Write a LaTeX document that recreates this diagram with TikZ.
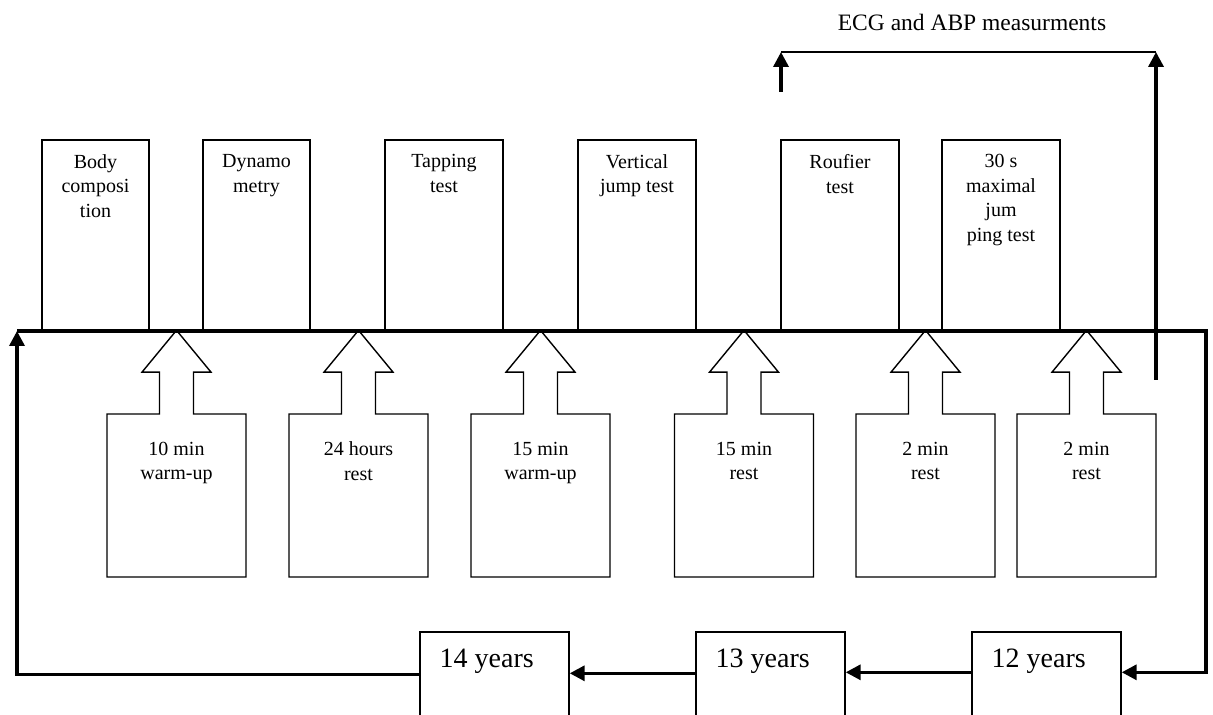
\documentclass[tikz,border=0pt]{standalone}
\usepackage{fontspec}
\setmainfont{Liberation Serif}
\usetikzlibrary{shapes.arrows, arrows.meta}

\tikzstyle{testbox} = [
    rectangle,
    draw=black,
    line width=0.7pt,
    minimum height=95.5pt,
    inner sep=0pt
]
\tikzstyle{restbox} = [
    arrow box,
    draw=black,
    line width=0.7pt,
    minimum width=69.5pt,
    minimum height=81.5pt,
    inner sep=0pt,
    arrow box arrows={north:41.5pt from border},
    arrow box shaft width=17pt,
    arrow box head extend=8.75pt,
    arrow box tip angle=79
]
\tikzstyle{agebox} = [
    rectangle,
    draw=black,
    line width=0.7pt,
    minimum width=74.5pt,
    minimum height=60pt,
    inner sep=0pt
]
\tikzstyle{boxtext} = [anchor=north, align=center, inner sep=0pt, yshift=-7.45pt,
    font=\fontsize{10}{12.25}\selectfont]
\tikzstyle{resttext} = [anchor=north, align=center, inner sep=0pt, yshift=-56.2pt,
    font=\fontsize{10}{12.25}\selectfont]
\tikzstyle{agetext} = [anchor=north west, inner sep=0pt, xshift=10pt, yshift=-8.5pt,
    font=\fontsize{14}{16}\selectfont]
\tikzstyle{arrow} = [line width=1.7pt, ->, >={Triangle[length=7.5pt, width=7.5pt]}]
\tikzstyle{thinline} = [line width=0.7pt]

\begin{document}
\begin{tikzpicture}[x=0.5pt, y=-0.5pt]

\useasboundingbox (0,0) rectangle (1213,715);
\clip (0,0) rectangle (1213,715);

% tests
\node (body) [testbox, minimum width=53.5pt, label={[boxtext]north:Body\\composi\\tion}] at (95.5,235.5) {};
\node (dyna) [testbox, minimum width=53.5pt, label={[boxtext]north:Dynamo\\metry}] at (256.5,235.5) {};
\node (tapping) [testbox, minimum width=59pt, label={[boxtext]north:Tapping\\test}] at (444,235.5) {};
\node (vjump) [testbox, minimum width=59pt, label={[boxtext]north:Vertical\\jump test}] at (637,235.5) {};
\node (roufier) [testbox, minimum width=59pt, label={[boxtext]north:Roufier\\test}] at (840,235.5) {};
\node (maxjump) [testbox, minimum width=59pt, label={[boxtext]north:30 s\\maximal\\jum\\ping test}] at (1001,235.5) {};

% pauses
\node (warm10) [restbox, label={[resttext]north:10 min\\warm-up}] at (176.5,495.5) {};
\node (rest24) [restbox, label={[resttext]north:24 hours\\rest}] at (358.5,495.5) {};
\node (warm15) [restbox, label={[resttext]north:15 min\\warm-up}] at (540.5,495.5) {};
\node (rest15) [restbox, label={[resttext]north:15 min\\rest}] at (744,495.5) {};
\node (rest2a) [restbox, label={[resttext]north:2 min\\rest}] at (925.5,495.5) {};
\node (rest2b) [restbox, label={[resttext]north:2 min\\rest}] at (1086.5,495.5) {};

% ages
\node (yr14) [agebox, label={[agetext]north west:14 years}] at (494.5,692) {};
\node (yr13) [agebox, label={[agetext]north west:13 years}] at (770.5,692) {};
\node (yr12) [agebox, label={[agetext]north west:12 years}] at (1046.5,692) {};

\coordinate (lineL) at (17,331);
\coordinate (lineR) at (1206,331);
\coordinate (ecgA) at (781,92);
\coordinate (ecgB) at (781,52);
\coordinate (ecgC) at (1156,52);
\coordinate (ecgD) at (1156,380);

\draw [arrow] (lineL) -- (lineR) |- ([yshift=-20.5pt]yr12.north east);
\draw [arrow] ([yshift=-20.5pt]yr12.north west) -- ([yshift=-20.5pt]yr13.north east);
\draw [arrow] ([yshift=-21pt]yr13.north west) -- ([yshift=-21pt]yr14.north east);
\draw [arrow] ([yshift=-21.5pt]yr14.north west) -| (lineL);

\draw [arrow] (ecgA) -- (ecgB);
\draw [thinline] (ecgB) -- node[anchor=base, yshift=10.5pt, xshift=1.75pt,
    font=\fontsize{11.75}{14}\selectfont] {ECG and ABP measurments} (ecgC);
\draw [arrow] (ecgD) -- (ecgC);

\end{tikzpicture}
\end{document}
